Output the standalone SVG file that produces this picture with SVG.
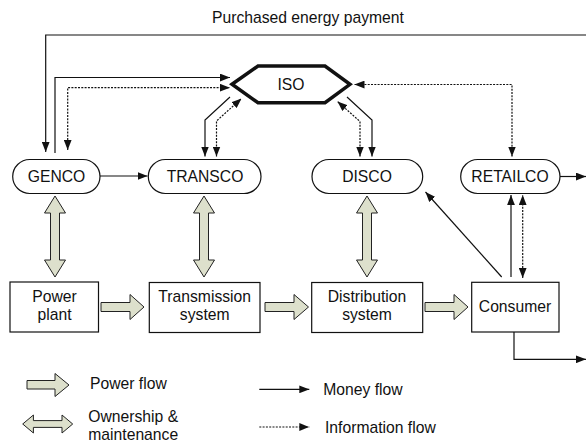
<svg xmlns="http://www.w3.org/2000/svg" width="586" height="442" viewBox="0 0 586 442">
<style>
text{font-family:"Liberation Sans",Arial,sans-serif;font-size:15.7px;fill:#111}
.c{text-anchor:middle}
.node{fill:#fff;stroke:#111;stroke-width:1.2}
.blk{fill:#dde0cc;stroke:#222;stroke-width:1}
.m{fill:none;stroke:#111;stroke-width:1.2}
.i{fill:none;stroke:#111;stroke-width:1.2;stroke-dasharray:2 1.3}
</style>
<defs>
<marker id="ah" markerUnits="userSpaceOnUse" markerWidth="10" markerHeight="8" viewBox="0 0 9 7" refX="9" refY="3.5" orient="auto-start-reverse">
<path d="M0,0 L9,3.5 L0,7 z" fill="#111"/>
</marker>
</defs>
<rect width="586" height="442" fill="#fff"/>

<g id="connectors">
<path class="m" d="M586,35 H45.7 V152" marker-end="url(#ah)"/>
<path class="m" d="M55,153 V77.5 H230" marker-end="url(#ah)"/>
<path class="i" d="M67.7,150 V87.7 H230" marker-start="url(#ah)" marker-end="url(#ah)"/>
<path class="m" d="M100,176 H147.5" marker-end="url(#ah)"/>
<path class="m" d="M230,97 L205,120 V156.5" marker-end="url(#ah)"/>
<path class="i" d="M216.5,156.5 V121 L241.5,98.5" marker-start="url(#ah)" marker-end="url(#ah)"/>
<path class="m" d="M347,97 L372,120 V156.5" marker-end="url(#ah)"/>
<path class="i" d="M360,156.5 V121.5 L337.5,101.5" marker-start="url(#ah)" marker-end="url(#ah)"/>
<path class="i" d="M354.5,84.5 H512 V156.5" marker-start="url(#ah)" marker-end="url(#ah)"/>
<path class="m" d="M560,176.5 H586" marker-end="url(#ah)"/>
<path class="m" d="M501.7,277 L425.5,192" marker-end="url(#ah)"/>
<path class="m" d="M511,277 V195" marker-end="url(#ah)"/>
<path class="i" d="M522.7,278 V195" marker-start="url(#ah)" marker-end="url(#ah)"/>
<path class="m" d="M514,332 V359.3 H586" marker-end="url(#ah)"/>
<!-- ownership arrows -->
<path class="blk" d="M55,196 L65.5,213 L59.5,213 L59.5,260 L65.5,260 L55,277 L44.5,260 L50.5,260 L50.5,213 L44.5,213 z"/>
<path class="blk" d="M204,196 L214.5,213 L208.5,213 L208.5,260 L214.5,260 L204,277 L193.5,260 L199.5,260 L199.5,213 L193.5,213 z"/>
<path class="blk" d="M367,196 L377.5,213 L371.5,213 L371.5,260 L377.5,260 L367,277 L356.5,260 L362.5,260 L362.5,213 L356.5,213 z"/>
<!-- power flow arrows -->
<path class="blk" d="M101,302.5 H130 V294.5 L144,307 L130,319.5 V311.5 H101 z"/>
<path class="blk" d="M265,302.5 H294 V294.5 L308.5,307 L294,319.5 V311.5 H265 z"/>
<path class="blk" d="M425,302.5 H454 V294.5 L468,307 L454,319.5 V311.5 H425 z"/>
</g>

<g id="title">
<text x="212" y="22.5">Purchased energy payment</text>
</g>

<g id="iso">
<polygon points="232,84.3 258,66 325,66 350,84.3 325,102.7 258,102.7" fill="#fff" stroke="#111" stroke-width="3.5" stroke-linejoin="miter"/>
<text class="c" x="291" y="89.5">ISO</text>
</g>
<g id="genco">
<rect class="node" x="12.7" y="159.5" width="87.3" height="34" rx="17"/>
<text class="c" x="56.5" y="182">GENCO</text>
</g>
<g id="transco">
<rect class="node" x="148.3" y="159.5" width="112.7" height="34" rx="17"/>
<text class="c" x="205" y="182">TRANSCO</text>
</g>
<g id="disco">
<rect class="node" x="312" y="159.5" width="110.7" height="34" rx="17"/>
<text class="c" x="367" y="182">DISCO</text>
</g>
<g id="retailco">
<rect class="node" x="460.7" y="159.5" width="99.3" height="34" rx="17"/>
<text class="c" x="510" y="182">RETAILCO</text>
</g>
<g id="power-plant">
<rect class="node" x="10" y="282" width="88.5" height="50"/>
<text class="c" x="54.5" y="301.5">Power</text>
<text class="c" x="54.5" y="320">plant</text>
</g>
<g id="transmission">
<rect class="node" x="149.3" y="282.5" width="110.7" height="50"/>
<text class="c" x="204.7" y="301.5">Transmission</text>
<text class="c" x="204.7" y="320">system</text>
</g>
<g id="distribution">
<rect class="node" x="311.7" y="282.5" width="111" height="50"/>
<text class="c" x="367" y="301.5">Distribution</text>
<text class="c" x="367" y="320">system</text>
</g>
<g id="consumer">
<rect class="node" x="471.7" y="282.3" width="87.3" height="49.7"/>
<text class="c" x="515" y="312">Consumer</text>
</g>

<g id="legend">
<path class="blk" d="M27,380.5 H55 V373.5 L69,385 L55,396.5 V389 H27 z"/>
<text x="90" y="389">Power flow</text>
<path class="blk" d="M22.7,424 L33.4,415 V420.6 H62 V415 L72.7,424 L62,433 V427.4 H33.4 V433 z"/>
<text x="88.3" y="422">Ownership &amp;</text>
<text x="88.3" y="439.7">maintenance</text>
<path class="m" d="M259.3,389.3 H309.3" marker-end="url(#ah)"/>
<text x="323.3" y="395">Money flow</text>
<path class="i" d="M259.3,427 H309.3" marker-end="url(#ah)"/>
<text x="325" y="432.7">Information flow</text>
</g>
</svg>
